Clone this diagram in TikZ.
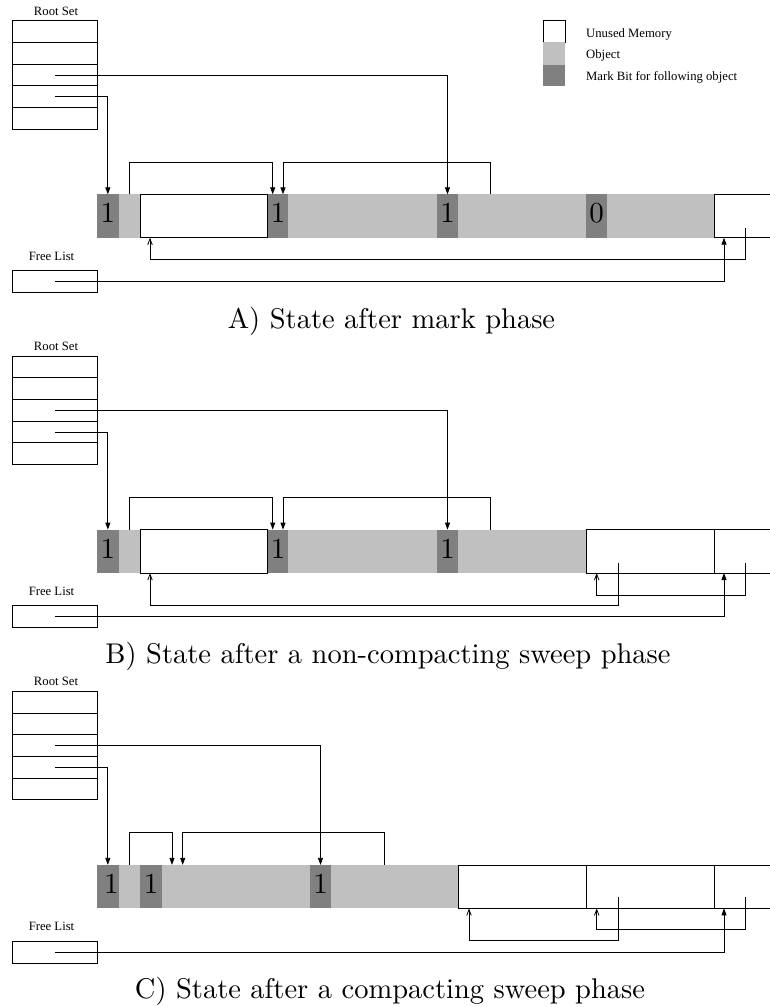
\documentclass[tikz,border=0pt]{standalone}
\usepackage{fontspec}
\newfontfamily\timesf{Liberation Serif}
\usetikzlibrary{arrows.meta}
\definecolor{markc}{HTML}{808080}
\definecolor{objc}{HTML}{C0C0C0}
\newcommand\dg[1]{\scalebox{2.9}{\fontsize{10}{12}\selectfont #1}}
\newcommand\capt[1]{\scalebox{2.85}{\fontsize{10}{12}\selectfont #1}}
% bar segment: style, name, x, width, text
\newcommand\seg[5]{\node[#1, anchor=north west, minimum width=#4pt] (#2) at (#3,194.3) {#5};}
\newcommand\rootset[1]{%
  \node[lbl, anchor=base] (#1-rl) at (56,15) {Root Set};
  \foreach \i in {1,...,5} \node[cell] (#1-r\i) at (55.2,{20.7+21.7*(\i-0.5)}) {};
  \node[lbl, anchor=base] (#1-fll) at (51.5,260) {Free List};
  \node[cell, minimum height=22pt] (#1-fl) at (55.2,281.3) {};
}
\tikzset{
  lbl/.style={font=\timesf\fontsize{12.7}{14}\selectfont, inner sep=0pt},
  cell/.style={draw, line width=0.8pt, minimum width=85pt, minimum height=21.7pt, inner sep=0pt, outer sep=0pt},
  barseg/.style={minimum height=43.4pt, inner sep=0pt, outer sep=0pt, draw=none},
  mk/.style={barseg, fill=markc, text height=13.4pt, text depth=0pt},
  ob/.style={barseg, fill=objc},
  fr/.style={barseg, fill=white, draw=black, line width=0.8pt},
  frl/.style={barseg, fill=white},
  arr/.style={line width=0.8pt, -{Triangle[length=7pt,width=5pt]}},
  oarr/.style={line width=0.8pt, -{Straight Barb[length=6pt,width=4.5pt]}},
  ln/.style={line width=0.8pt},
  captn/.style={anchor=base, inner sep=0pt},
}
\begin{document}
\begin{tikzpicture}[x=1pt,y=-1pt]
\useasboundingbox (0,0) rectangle (770,1007);

% ---------- legend ----------
\node[fr, minimum width=21.7pt, minimum height=22.3pt, anchor=north west] (lg1) at (543.3,20) {};
\node[ob, minimum width=21.7pt, minimum height=22.7pt, anchor=north west] (lg2) at (543.3,42.3) {};
\node[mk, minimum width=21.7pt, minimum height=20.7pt, anchor=north west] (lg3) at (543.3,65) {};
\node[lbl, anchor=base west] (lt1) at (586,37.7) {Unused Memory};
\node[lbl, anchor=base west] (lt2) at (586,58.5) {Object};
\node[lbl, anchor=base west] (lt3) at (586,80.5) {Mark Bit for following object};

% ---------- panel A ----------
\rootset{A}
\seg{ob}{A-o1}{119}{21}{}
\seg{ob}{A-o2}{288.3}{148.7}{}
\seg{ob}{A-o3}{458}{128}{}
\seg{ob}{A-o4}{607}{107}{}
\seg{mk}{A-m1}{96.7}{22.3}{\dg{1}}
\seg{mk}{A-m2}{267.7}{20.6}{\dg{1}}
\seg{mk}{A-m3}{437}{21}{\dg{1}}
\seg{mk}{A-m4}{586}{21}{\dg{0}}
\seg{fr}{A-f1}{140}{127.7}{}
\seg{frl}{A-f2}{714}{56}{}
\draw[ln] (A-f2.north east) -- (A-f2.north west) -- (A-f2.south west) -- (A-f2.south east);
\draw[arr] (A-r4.center) -| (A-m1.north);
\draw[arr] (A-r3.center) -| (A-m3.north);
\draw[arr] (A-o1.north) -- ++(0,-32.3) -| ([xshift=-5.3pt]A-m2.north);
\draw[arr] ([xshift=-32pt]A-o3.north) -- ++(0,-32.3) -| ([xshift=5pt]A-m2.north);
\coordinate (A-p2) at (745,227.7);
\draw[oarr] (A-p2) -- ++(0,31.6) -| ([xshift=10pt]A-f1.south west);
\draw[arr] (A-fl.center) -| ([xshift=10pt]A-f2.south west);
\node[captn] (A-cap) at (391.5,328.3) {\capt{A) State after mark phase}};

% ---------- panel B ----------
\begin{scope}[yshift=-335.3pt]
\rootset{B}
\seg{ob}{B-o1}{119}{21}{}
\seg{ob}{B-o2}{288.3}{148.7}{}
\seg{ob}{B-o3}{458}{128}{}
\seg{mk}{B-m1}{96.7}{22.3}{\dg{1}}
\seg{mk}{B-m2}{267.7}{20.6}{\dg{1}}
\seg{mk}{B-m3}{437}{21}{\dg{1}}
\seg{fr}{B-f1}{140}{127.7}{}
\seg{fr}{B-f2}{586}{128}{}
\seg{frl}{B-f3}{714}{56}{}
\draw[ln] (B-f3.north east) -- (B-f3.north west) -- (B-f3.south west) -- (B-f3.south east);
\draw[arr] (B-r4.center) -| (B-m1.north);
\draw[arr] (B-r3.center) -| (B-m3.north);
\draw[arr] (B-o1.north) -- ++(0,-32.3) -| ([xshift=-5.3pt]B-m2.north);
\draw[arr] ([xshift=-32pt]B-o3.north) -- ++(0,-32.3) -| ([xshift=5pt]B-m2.north);
\coordinate (B-p2) at (618.3,227.4);
\coordinate (B-p3) at (745,227.4);
\draw[oarr] (B-p2) -- ++(0,43) -| ([xshift=10pt]B-f1.south west);
\draw[oarr] (B-p3) -- ++(0,32.3) -| ([xshift=10.7pt]B-f2.south west);
\draw[arr] (B-fl.center) -| ([xshift=10pt]B-f3.south west);
\node[captn] (B-cap) at (388,328.3) {\capt{B) State after a non-compacting sweep phase}};
\end{scope}

% ---------- panel C ----------
\begin{scope}[yshift=-670.6pt]
\rootset{C}
\seg{ob}{C-o1}{119}{21}{}
\seg{ob}{C-o2}{162}{148}{}
\seg{ob}{C-o3}{331}{127.3}{}
\seg{mk}{C-m1}{96.7}{22.3}{\hspace*{7pt}\dg{1}}
\seg{mk}{C-m2}{140}{22}{\dg{1}}
\seg{mk}{C-m3}{310}{21}{\dg{1}}
\seg{fr}{C-f1}{458.3}{127.7}{}
\seg{fr}{C-f2}{586}{128}{}
\seg{frl}{C-f3}{714}{56}{}
\draw[ln] (C-f3.north east) -- (C-f3.north west) -- (C-f3.south west) -- (C-f3.south east);
\draw[arr] (C-r4.center) -| (C-m1.north);
\draw[arr] (C-r3.center) -| (C-m3.north);
\draw[arr] (C-o1.north) -- ++(0,-32.3) -| ([xshift=10pt]C-o2.north west);
\draw[arr] ([xshift=-10.35pt]C-o3.north) -- ++(0,-32.3) -| ([xshift=20.7pt]C-o2.north west);
\coordinate (C-p2) at (618.3,226.7);
\coordinate (C-p3) at (745,226.7);
\draw[oarr] (C-p2) -- ++(0,43.4) -| ([xshift=10.7pt]C-f1.south west);
\draw[oarr] (C-p3) -- ++(0,32) -| ([xshift=10.7pt]C-f2.south west);
\draw[arr] (C-fl.center) -| ([xshift=10pt]C-f3.south west);
\node[captn] (C-cap) at (390,328.3) {\capt{C) State after a compacting sweep phase}};
\end{scope}
\end{tikzpicture}
\end{document}
